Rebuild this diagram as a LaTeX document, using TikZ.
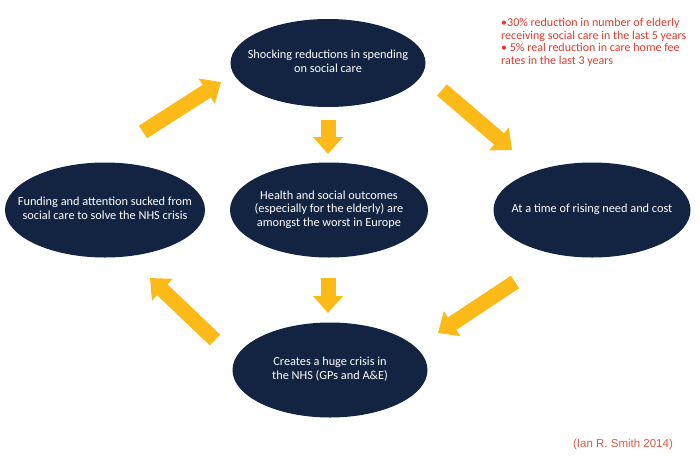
\documentclass[tikz,border=0pt]{standalone}
\usepackage{fontspec}
\setmainfont{Carlito}
\newfontfamily\credfont{Liberation Sans}
\usetikzlibrary{shapes.geometric,arrows.meta}
\definecolor{navy}{RGB}{18,36,66}
\definecolor{gold}{RGB}{252,186,25}
\definecolor{redtxt}{RGB}{232,56,42}
\definecolor{credred}{RGB}{222,88,70}
\newcommand\ztext[2][0pt]{\makebox[0pt][c]{\raisebox{#1}{\begin{tabular}{@{}c@{}}#2\end{tabular}}}}
\begin{document}
\begin{tikzpicture}[x=1pt,y=-1pt,
  bubble/.style={ellipse, fill=navy, text=white, minimum width=198pt, minimum height=95pt, inner sep=0pt, font=\fontsize{12.3}{13.6}\selectfont},
  flow/.style={gold, line width=15pt, -{Triangle[width=29pt,length=17pt]}}]
\useasboundingbox (0,0) rectangle (700,466);
\fill[white] (0,0) rectangle (700,466);
\node[bubble, minimum width=195pt, minimum height=88pt] (top) at (328,63) {\ztext[5pt]{Shocking reductions in spending\\on social care}};
\node[bubble, minimum width=200pt] (left) at (105,210) {\ztext{Funding and attention sucked from\\social care to solve the NHS crisis}};
\node[bubble] (mid) at (329,210) {\ztext{Health and social outcomes\\(especially for the elderly) are\\amongst the worst in Europe}};
\node[bubble, minimum width=197pt] (right) at (592,210) {\ztext{At a time of rising need and cost}};
\node[bubble, minimum width=195pt] (bot) at (330,370) {\ztext{Creates a huge crisis in\\the NHS (GPs and A\&E)}};
\coordinate (a1s) at (143,132); \coordinate (a1e) at (221,82);
\coordinate (a2s) at (442,90);  \coordinate (a2e) at (512,150);
\coordinate (a3s) at (328,120); \coordinate (a3e) at (328,154);
\coordinate (a4s) at (328,278); \coordinate (a4e) at (328,313);
\coordinate (a5s) at (515,282); \coordinate (a5e) at (438,333);
\coordinate (a6s) at (215,340); \coordinate (a6e) at (150,278);
\draw[flow] (a1s) -- (a1e);
\draw[flow] (a2s) -- (a2e);
\draw[flow] (a3s) -- (a3e);
\draw[flow] (a4s) -- (a4e);
\draw[flow] (a5s) -- (a5e);
\draw[flow] (a6s) -- (a6e);
\node[anchor=north west, inner sep=0pt, align=left, text=redtxt, font=\fontsize{12}{12.7}\selectfont] (note) at (501,18)
  {•30\% reduction in number of elderly\\receiving social care in the last 5 years\\• 5\% real reduction in care home fee\\rates in the last 3 years};
\node[text=credred, font=\credfont\fontsize{11.5}{13}\selectfont] (cred) at (623,445) {(Ian R. Smith 2014)};
\end{tikzpicture}
\end{document}
